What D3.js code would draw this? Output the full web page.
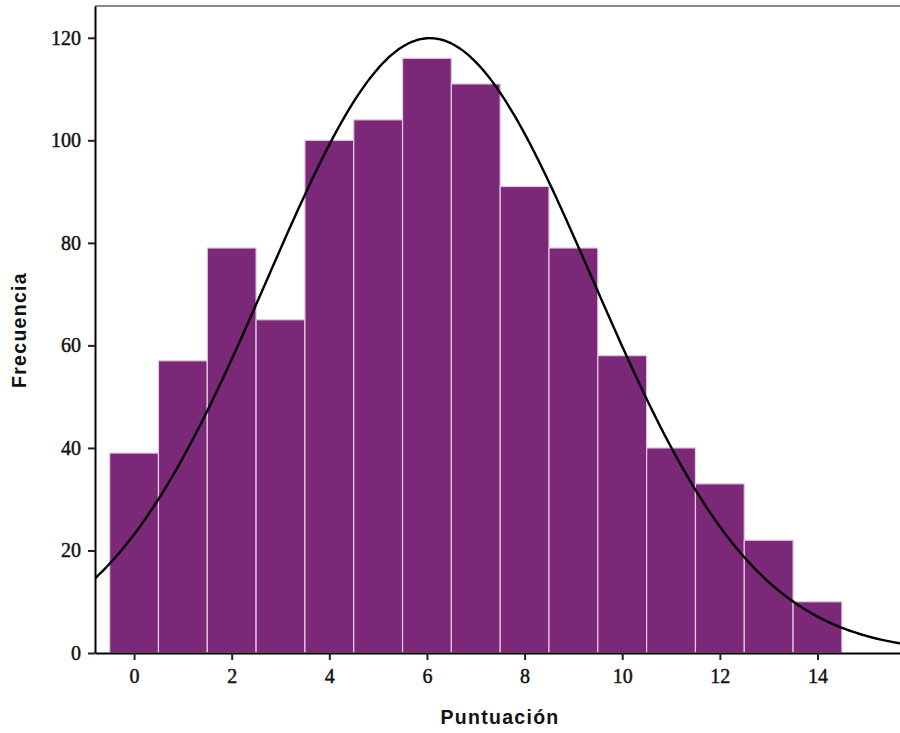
<!DOCTYPE html>
<html>
<head>
<meta charset="utf-8">
<script src="https://cdn.jsdelivr.net/npm/d3@7"></script>
<style>
  body { margin: 0; background: #fff; }
  .axis-title { font-family: "Liberation Sans", Arial, sans-serif; font-weight: bold; font-size: 19.5px; letter-spacing: 1.3px; fill: #111; }
</style>
</head>
<body>
<script>
// histogram data
const scores = [0, 1, 2, 3, 4, 5, 6, 7, 8, 9, 10, 11, 12, 13, 14];
const counts = [39, 57, 79, 65, 100, 104, 116, 111, 91, 79, 58, 40, 33, 22, 10];
const xTicks = [0, 2, 4, 6, 8, 10, 12, 14];
const yTicks = [0, 20, 40, 60, 80, 100, 120];

const WIDTH = 900;
const HEIGHT = 733;
const PLOT_LEFT = 95;
const PLOT_RIGHT = 900;
const PLOT_TOP = 6;
const PLOT_BOTTOM = 653;
const BAR_FILL = "#7b2879";
const BAR_EDGE = "#e6c9e6";

const svg = d3.select("body").append("svg")
  .attr("width", WIDTH)
  .attr("height", HEIGHT);

const x = d3.scaleLinear().domain([-0.8, 15.69]).range([PLOT_LEFT, PLOT_RIGHT]);
const y = d3.scaleLinear().domain([0, 126.2]).range([PLOT_BOTTOM, PLOT_TOP]);

svg.append("clipPath").attr("id", "plot-clip")
  .append("rect")
  .attr("x", PLOT_LEFT).attr("y", PLOT_TOP)
  .attr("width", PLOT_RIGHT - PLOT_LEFT).attr("height", PLOT_BOTTOM - PLOT_TOP);

// bars
svg.append("g")
  .selectAll("rect")
  .data(scores)
  .enter().append("rect")
  .attr("x", d => x(d - 0.5))
  .attr("y", (d, i) => y(counts[i]))
  .attr("width", x(1) - x(0))
  .attr("height", (d, i) => y(0) - y(counts[i]))
  .style("fill", BAR_FILL)
  .style("stroke", BAR_EDGE)
  .style("stroke-width", 1.2);

// normal curve fitted to the histogram (mean and sd from the bars)
const n = d3.sum(counts);
const mean = d3.sum(scores, (s, i) => s * counts[i]) / n;
const sd = Math.sqrt(d3.sum(scores, (s, i) => (s - mean) ** 2 * counts[i]) / n);
const density = v => n / (sd * Math.sqrt(2 * Math.PI)) * Math.exp(-0.5 * ((v - mean) / sd) ** 2);
const curveX = d3.range(-0.8, 15.75, 0.05);

svg.append("path")
  .datum(curveX)
  .attr("clip-path", "url(#plot-clip)")
  .attr("d", d3.line().x(v => x(v)).y(v => y(density(v))).curve(d3.curveBasis))
  .style("fill", "none")
  .style("stroke", "#000")
  .style("stroke-width", 2.4);

// top frame line
svg.append("line")
  .attr("x1", PLOT_LEFT).attr("x2", PLOT_RIGHT)
  .attr("y1", PLOT_TOP).attr("y2", PLOT_TOP)
  .style("stroke", "#888")
  .style("stroke-width", 2);

// axes
const xAxis = svg.append("g")
  .attr("transform", `translate(0,${PLOT_BOTTOM})`)
  .call(d3.axisBottom(x).tickValues(xTicks).tickSize(7).tickSizeOuter(0).tickPadding(9));
const yAxis = svg.append("g")
  .attr("transform", `translate(${PLOT_LEFT},0)`)
  .call(d3.axisLeft(y).tickValues(yTicks).tickSize(7).tickSizeOuter(0).tickPadding(7));
[xAxis, yAxis].forEach(a => {
  a.select(".domain").style("stroke", "#000").style("stroke-width", 2);
  a.selectAll(".tick line").style("stroke", "#222").style("stroke-width", 2);
  a.selectAll(".tick text")
    .style("font-family", "'Liberation Serif', 'Times New Roman', serif")
    .style("font-size", "20px")
    .style("fill", "#111")
    .style("stroke", "#111")
    .style("stroke-width", 0.45);
});

svg.append("text")
  .attr("class", "axis-title")
  .attr("x", 500).attr("y", 724)
  .attr("text-anchor", "middle")
  .text("Puntuación");

svg.append("text")
  .attr("class", "axis-title")
  .attr("transform", "translate(26,330) rotate(-90)")
  .attr("text-anchor", "middle")
  .text("Frecuencia");
</script>
</body>
</html>
